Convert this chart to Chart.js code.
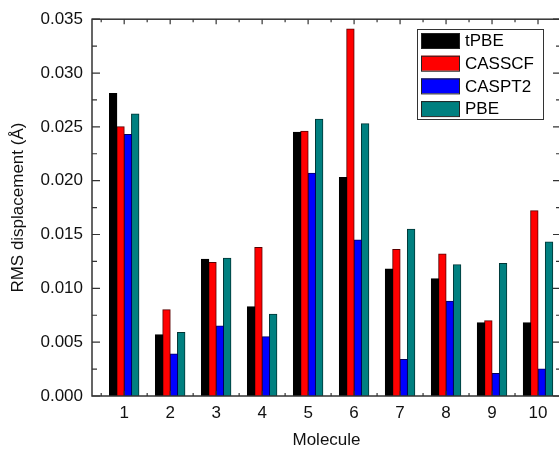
<!DOCTYPE html>
<html>
<head>
<meta charset="utf-8">
<script src="https://cdn.jsdelivr.net/npm/chart.js@4.4.1/dist/chart.umd.min.js"></script>
<style>
  html, body { margin: 0; padding: 0; overflow: hidden; background: #fff; }
  #wrap { width: 575px; height: 453px; }
</style>
</head>
<body>
<div id="wrap"><canvas id="rmsChart" width="575" height="453"></canvas></div>
<script>
// molecule numbers on the x axis
var molecules = [1, 2, 3, 4, 5, 6, 7, 8, 9, 10];

// RMS displacement (Angstrom) per method
var tpbe   = [0.0281, 0.0057, 0.0127, 0.0083, 0.0245, 0.0203, 0.0118, 0.0109, 0.0068, 0.0068];
var casscf = [0.0250, 0.0080, 0.0124, 0.0138, 0.0246, 0.0341, 0.0136, 0.0132, 0.0070, 0.0172];
var caspt2 = [0.0243, 0.0039, 0.0065, 0.0055, 0.0207, 0.0145, 0.0034, 0.0088, 0.0021, 0.0025];
var pbe    = [0.0262, 0.0059, 0.0128, 0.0076, 0.0257, 0.0253, 0.0155, 0.0122, 0.0123, 0.0143];

var methods = ['tPBE', 'CASSCF', 'CASPT2', 'PBE'];
var yTicks = [0.000, 0.005, 0.010, 0.015, 0.020, 0.025, 0.030, 0.035];

var FONT = '"Liberation Sans", Arial, sans-serif';
var fills = ['#000000', '#ff0000', '#0000ff', '#008080'];
var edges = ['#000000', '#5a0000', '#00005a', '#003535'];

function points(values) {
    return molecules.map(function (m, i) { return { x: m, y: values[i] }; });
}

var series = [tpbe, casscf, caspt2, pbe];
var datasets = series.map(function (vals, i) {
    return {
        label: methods[i],
        data: points(vals),
        backgroundColor: fills[i],
        borderColor: edges[i],
        borderWidth: 1,
        borderSkipped: 'bottom',
        inflateAmount: 0.5,
        categoryPercentage: 0.64,
        barPercentage: 1.0
    };
});

// frame with inward ticks, like the original plot
var framePlugin = {
    id: 'frame',
    afterDraw: function (chart) {
        var ctx = chart.ctx, a = chart.chartArea;
        var xs = chart.scales.x, ys = chart.scales.y;
        ctx.save();
        ctx.strokeStyle = '#333';
        ctx.lineWidth = 1.5;
        ctx.strokeRect(a.left, a.top, a.right - a.left, a.bottom - a.top);
        ctx.lineWidth = 1.2;
        ctx.beginPath();
        for (var v = 0; v <= 0.035 + 1e-9; v += 0.0025) {
            var py = ys.getPixelForValue(v);
            var major = Math.abs(v / 0.005 - Math.round(v / 0.005)) < 1e-6;
            var len = major ? 8 : 5;
            ctx.moveTo(a.left, py); ctx.lineTo(a.left + len, py);
            ctx.moveTo(a.right, py); ctx.lineTo(a.right - len, py);
        }
        for (var k = 0.5; k <= 10.5; k += 0.5) {
            var px = xs.getPixelForValue(k);
            var l2 = (k % 1 === 0) ? 5 : 3;
            ctx.moveTo(px, a.top); ctx.lineTo(px, a.top + l2);
            ctx.moveTo(px, a.bottom); ctx.lineTo(px, a.bottom - l2);
        }
        ctx.stroke();
        ctx.restore();
    }
};

var legendPlugin = {
    id: 'boxLegend',
    afterDraw: function (chart) {
        var ctx = chart.ctx;
        var left = 417, top = 29, w = 126, h = 90;
        ctx.save();
        ctx.fillStyle = '#fff';
        ctx.fillRect(left, top, w, h);
        ctx.strokeStyle = '#333';
        ctx.lineWidth = 1;
        ctx.strokeRect(left + 0.5, top + 0.5, w, h);
        ctx.font = '17px ' + FONT;
        ctx.textBaseline = 'middle';
        ctx.textAlign = 'left';
        chart.data.datasets.forEach(function (ds, i) {
            var cy = 40.5 + i * 22.7;
            ctx.fillStyle = ds.backgroundColor;
            ctx.fillRect(421, cy - 7.5, 39, 15);
            ctx.strokeStyle = '#222';
            ctx.strokeRect(421.5, cy - 7, 38, 15);
            ctx.fillStyle = '#000';
            ctx.fillText(ds.label, 465, cy + 1);
        });
        ctx.restore();
    }
};

new Chart(document.getElementById('rmsChart'), {
    type: 'bar',
    data: { datasets: datasets },
    options: {
        responsive: false,
        animation: false,
        layout: { padding: { top: 17, right: 14, left: 0, bottom: 0 } },
        plugins: {
            legend: { display: false },
            tooltip: { enabled: false }
        },
        scales: {
            x: {
                type: 'linear',
                min: 0.3,
                max: 10.5,
                offset: false,
                grid: { display: false, drawTicks: false, offset: false },
                border: { display: false },
                afterBuildTicks: function (scale) {
                    scale.ticks = molecules.map(function (m) { return { value: m }; });
                },
                afterFit: function (scale) { scale.height = 57; },
                ticks: {
                    autoSkip: false,
                    maxRotation: 0,
                    padding: 7,
                    color: '#111',
                    font: { family: FONT, size: 17 },
                    callback: function (v) { return String(v); }
                },
                title: {
                    display: true,
                    text: 'Molecule',
                    color: '#111',
                    font: { family: FONT, size: 17 },
                    padding: { top: 0, bottom: 2 }
                }
            },
            y: {
                min: 0,
                max: 0.035,
                grid: { display: false, drawTicks: false },
                border: { display: false },
                afterBuildTicks: function (scale) {
                    scale.ticks = yTicks.map(function (t) { return { value: t }; });
                },
                afterFit: function (scale) { scale.width = 92; },
                ticks: {
                    padding: 9,
                    color: '#111',
                    font: { family: FONT, size: 17 },
                    callback: function (v) { return v.toFixed(3); }
                },
                title: {
                    display: true,
                    text: 'RMS displacement (Å)',
                    color: '#111',
                    font: { family: FONT, size: 17 },
                    padding: { top: 8, bottom: 0 }
                }
            }
        }
    },
    plugins: [framePlugin, legendPlugin]
});
</script>
</body>
</html>
